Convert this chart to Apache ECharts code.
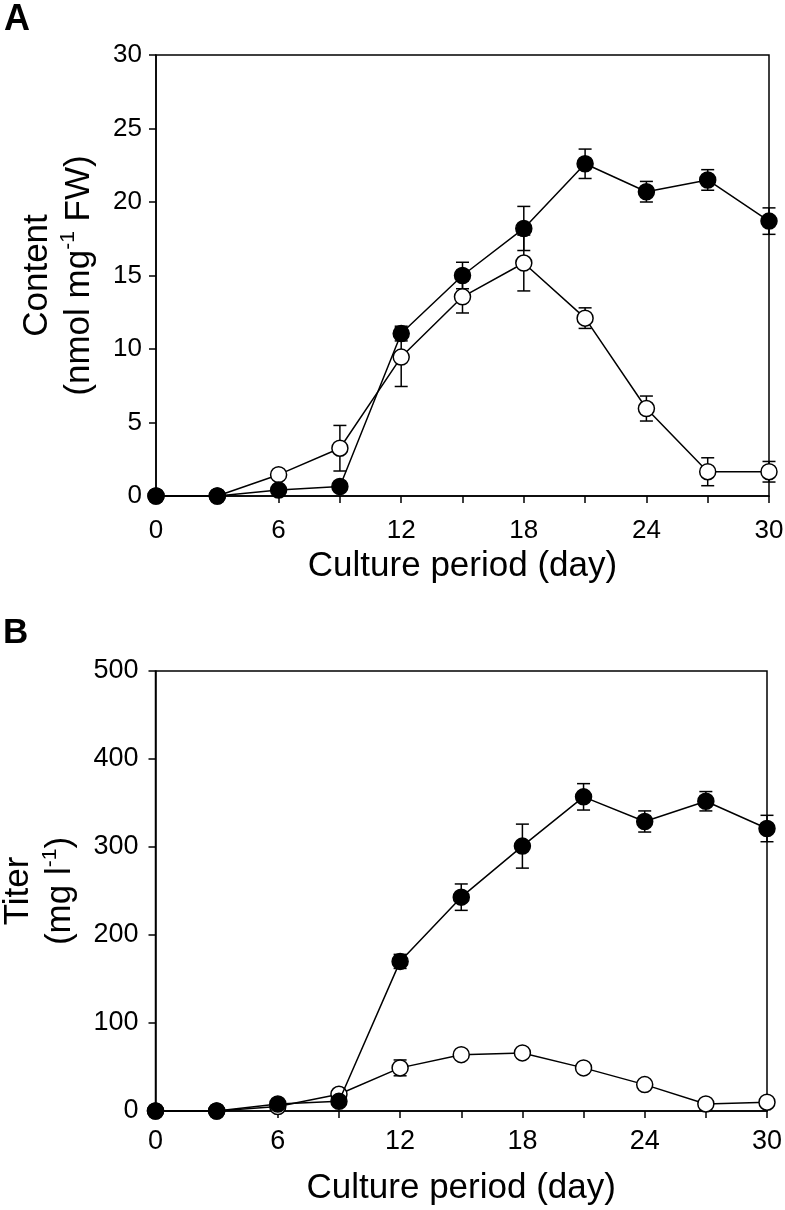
<!DOCTYPE html>
<html>
<head>
<meta charset="utf-8">
<script src="https://cdn.jsdelivr.net/npm/echarts@6/dist/echarts.min.js"></script>
<style>
html,body{margin:0;padding:0;background:#fff;}
#c{width:785px;height:1210px;}
</style>
</head>
<body>
<div id="c"></div>
<script>
// ---- data ----
var days = [0, 3, 6, 9, 12, 15, 18, 21, 24, 27, 30];
var xTickLabels = [0, 6, 12, 18, 24, 30];
var contentClosed = [0, 0, 0.4, 0.65, 11.05, 15.0, 18.2, 22.6, 20.7, 21.5, 18.7];
var contentClosedErr = [0, 0, 0.1, 0.1, 0.5, 0.9, 1.5, 1.0, 0.7, 0.7, 0.9];
var contentOpen = [0, 0, 1.45, 3.25, 9.45, 13.55, 15.85, 12.1, 5.95, 1.65, 1.65];
var contentOpenErr = [0, 0, 0.2, 1.55, 2.0, 1.1, 1.9, 0.7, 0.85, 0.95, 0.7];
var titerClosed = [0, 0, 8, 11, 170, 243, 301, 357, 329, 352, 321];
var titerClosedErr = [0, 0, 2, 3, 8, 15, 25, 15, 12, 11, 15];
var titerOpen = [0, 0, 5, 19, 49, 64, 66, 49, 30, 8, 10];
var titerOpenErr = [0, 0, 1, 3, 9, 3, 5, 3, 3, 2, 2];
var contentTicks = [0, 5, 10, 15, 20, 25, 30];
var titerTicks = [0, 100, 200, 300, 400, 500];

var FONT = '"Liberation Sans", Arial, sans-serif';

function pairs(ys) { return days.map(function (d, i) { return [d, ys[i]]; }); }
function errData(ys, es) { return days.map(function (d, i) { return [d, ys[i] - es[i], ys[i] + es[i]]; }); }

function errSeries(idx, ys, es) {
  return {
    type: 'custom', xAxisIndex: idx, yAxisIndex: idx, z: 1, silent: true,
    data: errData(ys, es), clip: false,
    renderItem: function (params, api) {
      var x = api.value(0);
      var lo = api.coord([x, api.value(1)]);
      var hi = api.coord([x, api.value(2)]);
      var w = 6.5;
      var st = { stroke: '#000', lineWidth: 1.5 };
      return {
        type: 'group', children: [
          { type: 'line', shape: { x1: lo[0], y1: lo[1], x2: hi[0], y2: hi[1] }, style: st },
          { type: 'line', shape: { x1: lo[0] - w, y1: lo[1], x2: lo[0] + w, y2: lo[1] }, style: st },
          { type: 'line', shape: { x1: hi[0] - w, y1: hi[1], x2: hi[0] + w, y2: hi[1] }, style: st }
        ]
      };
    }
  };
}
function lineSeries(idx, ys, filled, z) {
  return {
    type: 'line', xAxisIndex: idx, yAxisIndex: idx, z: z, clip: false,
    data: pairs(ys), symbol: 'circle', symbolSize: 16,
    lineStyle: { color: '#000', width: 1.5 },
    itemStyle: { color: filled ? '#000' : '#fff', borderColor: '#000', borderWidth: 1.5 },
    emphasis: { disabled: true }, animation: false
  };
}

function xAxis(idx, labelSize, margin, gap) {
  return {
    type: 'value', gridIndex: idx, min: 0, max: 30, interval: 3,
    name: 'Culture period (day)', nameLocation: 'middle', nameGap: gap,
    nameTextStyle: { fontFamily: FONT, fontSize: 35, color: '#000' },
    axisLine: { show: true, lineStyle: { color: '#000', width: 1.5 } },
    axisTick: { show: true, inside: false, length: 7, lineStyle: { color: '#000', width: 1.5 } },
    axisLabel: {
      fontFamily: FONT, fontSize: labelSize, color: '#000', margin: margin,
      formatter: function (v) { return xTickLabels.indexOf(v) >= 0 ? String(v) : ''; }
    },
    splitLine: { show: false }
  };
}
function yAxis(idx, max, interval, name, gap, ticks, labelSize, margin) {
  return {
    type: 'value', gridIndex: idx, min: 0, max: max, interval: interval,
    name: name, nameLocation: 'middle', nameGap: gap,
    nameTextStyle: {
      fontFamily: FONT, fontSize: 35, color: '#000', lineHeight: 42,
      rich: {
        t: { fontFamily: FONT, fontSize: 35, color: '#000', lineHeight: 42 },
        s: { fontFamily: FONT, fontSize: 21, color: '#000', lineHeight: 42, verticalAlign: 'top' }
      }
    },
    axisLine: { show: true, lineStyle: { color: '#000', width: 1.5 } },
    axisTick: { show: true, inside: false, length: 7, lineStyle: { color: '#000', width: 1.5 } },
    axisLabel: {
      fontFamily: FONT, fontSize: labelSize, color: '#000', margin: margin,
      formatter: function (v) { return ticks.indexOf(v) >= 0 ? String(v) : ''; }
    },
    splitLine: { show: false }
  };
}

var chart = echarts.init(document.getElementById('c'), null, { renderer: 'canvas' });
chart.setOption({
  animation: false,
  backgroundColor: '#fff',
  graphic: [
    { type: 'text', left: 4, top: 2, style: { text: 'A', font: 'bold 36px ' + FONT, fill: '#000' } },
    { type: 'text', left: 3, top: 616, style: { text: 'B', font: 'bold 35px ' + FONT, fill: '#000' } }
  ],
  grid: [
    { left: 156, top: 55, width: 613, height: 441, show: true, borderColor: '#000', borderWidth: 1.5, backgroundColor: 'transparent', containLabel: false, outerBoundsMode: 'none' },
    { left: 155.5, top: 671, width: 611.5, height: 440, show: true, borderColor: '#000', borderWidth: 1.5, backgroundColor: 'transparent', containLabel: false, outerBoundsMode: 'none' }
  ],
  xAxis: [xAxis(0, 26, 22, 53), xAxis(1, 27, 17, 60)],
  yAxis: [
    yAxis(0, 30, 5, '{t|Content}\n{t|(nmol mg}{s|-1}{t| FW)}', 56, contentTicks, 26, 14),
    yAxis(1, 500, 100, '{t|Titer}\n{t|(mg l}{s|-1}{t|)}', 74, titerTicks, 27, 17)
  ],
  series: [
    errSeries(0, contentOpen, contentOpenErr),
    errSeries(0, contentClosed, contentClosedErr),
    lineSeries(0, contentOpen, false, 3),
    lineSeries(0, contentClosed, true, 4),
    errSeries(1, titerOpen, titerOpenErr),
    errSeries(1, titerClosed, titerClosedErr),
    lineSeries(1, titerOpen, false, 3),
    lineSeries(1, titerClosed, true, 4)
  ]
});
</script>
</body>
</html>
